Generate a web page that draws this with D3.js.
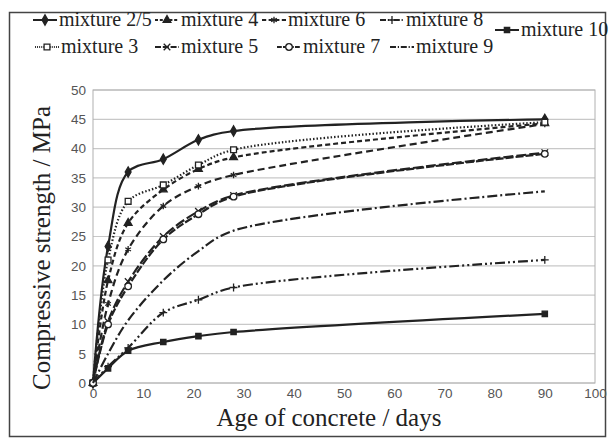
<!DOCTYPE html>
<html>
<head>
<meta charset="utf-8">
<script src="https://cdn.jsdelivr.net/npm/d3@7"></script>
<style>
  body { margin: 0; background: #fff; }
</style>
</head>
<body>
<div id="chart"></div>
<script>
// age of concrete (days)
const days = [0, 3, 7, 14, 21, 28, 90];

// compressive strength (MPa) per mixture
const mix25 = [0, 23.3, 36.0, 38.2, 41.5, 43.0, 45.0];
const mix3  = [0, 21.0, 31.0, 33.8, 37.2, 39.8, 44.5];
const mix4  = [0, 17.5, 27.3, 33.0, 36.5, 38.5, 44.3];
const mix6  = [0, 13.5, 22.8, 30.2, 33.6, 35.5, 44.2];
const mix5  = [0, 10.5, 17.3, 25.0, 29.3, 32.0, 39.3];
const mix7  = [0, 10.0, 16.5, 24.5, 28.8, 31.8, 39.1];
const mix9  = [0, 5.0, 10.7, 17.5, 22.5, 26.0, 32.7];
const mix8  = [0, 2.8, 6.0, 12.0, 14.2, 16.3, 21.0];
const mix10 = [0, 2.5, 5.5, 7.0, 8.0, 8.7, 11.8];

const names = ["mixture 2/5", "mixture 4", "mixture 6", "mixture 8", "mixture 10",
               "mixture 3", "mixture 5", "mixture 7", "mixture 9"];
const values = [mix25, mix4, mix6, mix8, mix10, mix3, mix5, mix7, mix9];

const xTicks = [0, 10, 20, 30, 40, 50, 60, 70, 80, 90, 100];
const yTicks = [0, 5, 10, 15, 20, 25, 30, 35, 40, 45, 50];

const serif = "'Liberation Serif', 'Times New Roman', serif";
const sans = "'Liberation Sans', Arial, sans-serif";

// line / marker styles per mixture
const styles = {
  "mixture 2/5": {dash: null,            sym: d3.symbolDiamond,  fill: "#222", size: 30},
  "mixture 4":   {dash: "5,3",           sym: d3.symbolTriangle, fill: "#222", size: 26},
  "mixture 6":   {dash: "7,4",           sym: d3.symbolAsterisk, fill: "none", size: 30},
  "mixture 8":   {dash: "10,3,2,3,2,3",  sym: d3.symbolPlus,     fill: "none", size: 22},
  "mixture 10":  {dash: null,            sym: d3.symbolSquare,   fill: "#222", size: 28},
  "mixture 3":   {dash: "1.5,2",         sym: d3.symbolSquare,   fill: "#fff", size: 34},
  "mixture 5":   {dash: "10,3",          sym: d3.symbolX,        fill: "none", size: 30},
  "mixture 7":   {dash: "8,2",           sym: d3.symbolCircle,   fill: "#fff", size: 34},
  "mixture 9":   {dash: "10,3,2,3",      sym: null,              fill: "none", size: 0}
};

const W = 612, H = 442;
const margin = {top: 90, right: 17, bottom: 59, left: 93},
      width = W - margin.left - margin.right,
      height = H - margin.top - margin.bottom;

const svg = d3.select("#chart").append("svg")
  .attr("width", W).attr("height", H);

// outer frame
svg.append("rect")
  .attr("x", 9.5).attr("y", 12.5)
  .attr("width", 596).attr("height", 424)
  .attr("fill", "none").attr("stroke", "#444").attr("stroke-width", 1.5);

const g = svg.append("g")
  .attr("transform", `translate(${margin.left},${margin.top})`);

const x = d3.scaleLinear().domain([0, 100]).range([0, width]);
const y = d3.scaleLinear().domain([0, 50]).range([height, 0]);

// gridlines
g.selectAll(".grid")
  .data(yTicks)
  .join("line")
    .attr("x1", 0).attr("x2", width)
    .attr("y1", d => y(d)).attr("y2", d => y(d))
    .attr("stroke", "#c8c8c8").attr("stroke-width", 1.2);

// plot border
g.append("rect")
  .attr("width", width).attr("height", height)
  .attr("fill", "none").attr("stroke", "#b0b0b0");

// axes
const xAxis = g.append("g")
  .attr("transform", `translate(0,${height})`)
  .call(d3.axisBottom(x).tickValues(xTicks).tickSize(0).tickPadding(5));
const yAxis = g.append("g")
  .call(d3.axisLeft(y).tickValues(yTicks).tickSize(0).tickPadding(7));
[xAxis, yAxis].forEach(a => {
  a.select(".domain").remove();
  a.selectAll("text")
    .attr("font-family", sans)
    .attr("font-size", 13.5)
    .attr("fill", "#555");
});

// lines
const line = d3.line()
  .x(d => x(d[0])).y(d => y(d[1]))
  .curve(d3.curveCatmullRom.alpha(0.5));

names.forEach((name, i) => {
  const st = styles[name];
  const pts = days.map((d, j) => [d, values[i][j]]);
  g.append("path")
    .datum(pts)
    .attr("d", line)
    .attr("fill", "none")
    .attr("stroke", "#222")
    .attr("stroke-width", 2.2)
    .attr("stroke-dasharray", st.dash);
  if (st.sym) {
    g.selectAll(null)
      .data(pts)
      .join("path")
        .attr("transform", d => `translate(${x(d[0])},${y(d[1])})`)
        .attr("d", d3.symbol().type(st.sym).size(st.size))
        .attr("fill", st.fill)
        .attr("stroke", "#222")
        .attr("stroke-width", 1.3);
  }
});

// legend (x = where the text starts)
const legendPos = [
  {name: "mixture 2/5", x: 59,  y: 20},
  {name: "mixture 4",   x: 181, y: 20},
  {name: "mixture 6",   x: 288, y: 20},
  {name: "mixture 8",   x: 406, y: 20},
  {name: "mixture 10",  x: 521, y: 30},
  {name: "mixture 3",   x: 61,  y: 47},
  {name: "mixture 5",   x: 181, y: 47},
  {name: "mixture 7",   x: 303, y: 47},
  {name: "mixture 9",   x: 416, y: 47}
];
const legend = svg.append("g");
legendPos.forEach(p => {
  const st = styles[p.name];
  const lw = 24, x0 = p.x - lw - 2;
  legend.append("line")
    .attr("x1", x0).attr("x2", x0 + lw)
    .attr("y1", p.y).attr("y2", p.y)
    .attr("stroke", "#222").attr("stroke-width", 2)
    .attr("stroke-dasharray", st.dash ? st.dash.split(",").map(v => v * 0.6).join(",") : null);
  if (st.sym) {
    legend.append("path")
      .attr("transform", `translate(${x0 + lw / 2},${p.y})`)
      .attr("d", d3.symbol().type(st.sym).size(st.size))
      .attr("fill", st.fill)
      .attr("stroke", "#222")
      .attr("stroke-width", 1.3);
  }
  legend.append("text")
    .attr("x", p.x)
    .attr("y", p.y)
    .attr("dy", "0.32em")
    .attr("font-family", serif)
    .attr("font-size", 20)
    .attr("fill", "#222")
    .text(p.name);
});

// axis titles
svg.append("text")
  .attr("x", 329)
  .attr("y", 426)
  .attr("text-anchor", "middle")
  .attr("font-family", serif)
  .attr("font-size", 25)
  .attr("fill", "#222")
  .text("Age of concrete / days");

svg.append("text")
  .attr("transform", `translate(50,248) rotate(-90)`)
  .attr("text-anchor", "middle")
  .attr("font-family", serif)
  .attr("font-size", 25)
  .attr("fill", "#222")
  .text("Compressive strength / MPa");
</script>
</body>
</html>
